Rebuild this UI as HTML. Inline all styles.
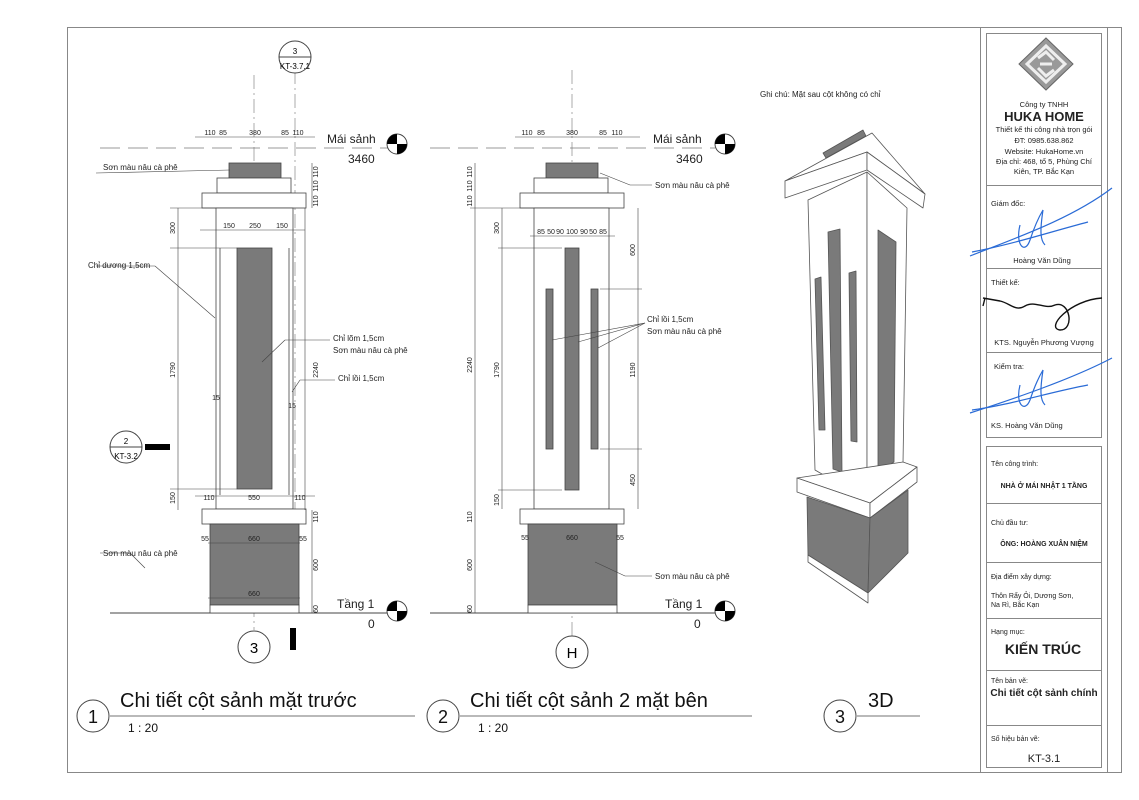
<!DOCTYPE html>
<html><head><meta charset="utf-8"><style>
body{margin:0;background:#fff}
svg{display:block;font-family:"Liberation Sans","DejaVu Sans",sans-serif}
.t{font-size:8px;fill:#222}
.d{font-size:7px;fill:#222}
</style></head><body>
<svg width="1139" height="800" viewBox="0 0 1139 800" xmlns="http://www.w3.org/2000/svg">
<rect x="0" y="0" width="1139" height="800" fill="#fff"/>
<rect x="67.5" y="27.5" width="1054" height="745" fill="none" stroke="#888" stroke-width="1"/>
<line x1="980.5" y1="28" x2="980.5" y2="772" stroke="#888"/>
<line x1="1107.5" y1="28" x2="1107.5" y2="772" stroke="#888"/>
<rect x="986.5" y="33.5" width="115" height="404" fill="none" stroke="#888"/>
<rect x="986.5" y="446.5" width="115" height="321" fill="none" stroke="#888"/>
<g stroke="#888"><line x1="987" y1="185.5" x2="1101" y2="185.5"/><line x1="987" y1="268.5" x2="1101" y2="268.5"/><line x1="987" y1="352.5" x2="1101" y2="352.5"/>
<line x1="987" y1="503.5" x2="1101" y2="503.5"/><line x1="987" y1="562.5" x2="1101" y2="562.5"/><line x1="987" y1="618.5" x2="1101" y2="618.5"/><line x1="987" y1="670.5" x2="1101" y2="670.5"/><line x1="987" y1="725.5" x2="1101" y2="725.5"/></g>
<polygon points="1046,38 1073,64 1046,90 1019,64" fill="#999" stroke="#666"/>
<polygon points="1046,46 1065,64 1046,82 1027,64" fill="none" stroke="#eee" stroke-width="3"/>
<path d="M1038,58 L1046,52 L1054,60 M1054,70 L1046,76 L1038,68 M1040,64 L1052,64" stroke="#eee" stroke-width="3" fill="none"/>
<g text-anchor="middle" fill="#222">
<text x="1044" y="107" font-size="7.5">Công ty TNHH</text>
<text x="1044" y="121" font-size="13" font-weight="bold">HUKA HOME</text>
<text x="1044" y="132" font-size="7.5">Thiết kế thi công nhà trọn gói</text>
<text x="1044" y="143" font-size="7.5">ĐT: 0985.638.862</text>
<text x="1044" y="154" font-size="7.5">Website: HukaHome.vn</text>
<text x="1044" y="164" font-size="7.5">Địa chỉ: 468, tổ 5, Phùng Chí</text>
<text x="1044" y="174" font-size="7.5">Kiên, TP. Bắc Kạn</text>
<text x="1042" y="263" font-size="7.5">Hoàng Văn Dũng</text>
<text x="1044" y="345" font-size="7.5">KTS. Nguyễn Phương Vượng</text>
<text x="1044" y="488" font-size="7" font-weight="bold">NHÀ Ở MÁI NHẬT 1 TẦNG</text>
<text x="1044" y="546" font-size="7" font-weight="bold">ÔNG: HOÀNG XUÂN NIỆM</text>
<text x="1043" y="654" font-size="14" font-weight="bold">KIẾN TRÚC</text>
<text x="1044" y="696" font-size="10" font-weight="bold">Chi tiết cột sảnh chính</text>
<text x="1044" y="762" font-size="11">KT-3.1</text>
</g>
<g font-size="7.5" fill="#222">
<text x="991" y="206">Giám đốc:</text><text x="991" y="285">Thiết kế:</text><text x="994" y="369">Kiểm tra:</text>
<text x="991" y="428">KS. Hoàng Văn Dũng</text>
<text x="991" y="466" font-size="7">Tên công trình:</text>
<text x="991" y="525" font-size="7">Chủ đầu tư:</text>
<text x="991" y="579" font-size="7">Địa điểm xây dựng:</text>
<text x="991" y="598" font-size="7">Thôn Rẩy Ỏi, Dương Sơn,</text>
<text x="991" y="607" font-size="7">Na Rì, Bắc Kạn</text>
<text x="991" y="634" font-size="7">Hạng mục:</text>
<text x="991" y="683" font-size="7">Tên bản vẽ:</text>
<text x="991" y="741" font-size="7">Số hiệu bản vẽ:</text>
</g>
<g fill="none" stroke="#2a6bd6" stroke-width="1.2">
<path d="M970,256 C1010,240 1070,220 1112,188"/><path d="M972,252 C1010,245 1050,232 1088,222"/>
<path d="M1020,225 C1015,245 1025,255 1030,240 C1035,225 1040,215 1043,210 C1040,230 1040,240 1045,245"/>
<path d="M970,413 C1010,400 1070,380 1112,358"/><path d="M972,410 C1010,405 1050,392 1088,385"/>
<path d="M1020,385 C1015,405 1025,413 1030,400 C1035,385 1040,375 1043,370 C1040,390 1040,400 1045,405"/>
</g>
<path d="M985,298 L983,306 M983,298 L1000,301 C1010,303 1015,312 1025,306 C1035,300 1045,310 1055,305 C1070,300 1075,330 1060,330 C1045,328 1070,300 1102,298" fill="none" stroke="#111" stroke-width="1.4"/>

<g stroke="#888" stroke-width="0.7" fill="none" stroke-dasharray="14,4,2,4">
<line x1="254" y1="75" x2="254" y2="630"/><line x1="295" y1="70" x2="295" y2="615"/>
<line x1="572" y1="70" x2="572" y2="636"/>
</g>
<g stroke="#777" stroke-width="0.8" stroke-dasharray="20,8">
<line x1="100" y1="148" x2="390" y2="148"/><line x1="430" y1="148" x2="715" y2="148"/>
</g>
<line x1="110" y1="613" x2="390" y2="613" stroke="#444" stroke-width="1"/>
<line x1="430" y1="613" x2="718" y2="613" stroke="#444" stroke-width="1"/>
<g stroke="#444" stroke-width="0.8">
<rect x="229" y="163" width="52" height="15" fill="#7a7a7a"/>
<rect x="217" y="178" width="74" height="15" fill="#fff"/>
<rect x="202" y="193" width="104" height="15" fill="#fff"/>
<rect x="216" y="208" width="77" height="301" fill="#fff"/>
<rect x="237" y="248" width="35" height="241" fill="#7a7a7a"/>
<line x1="220" y1="248" x2="220" y2="495"/><line x1="289" y1="248" x2="289" y2="495"/>
<rect x="202" y="509" width="104" height="15" fill="#fff"/>
<rect x="210" y="524" width="89" height="81" fill="#7a7a7a"/>
<rect x="210" y="605" width="89" height="8" fill="#fff"/>
</g>
<g stroke="#444" stroke-width="0.6">
<line x1="195" y1="137" x2="315" y2="137"/><line x1="200" y1="230" x2="305" y2="230"/>
<line x1="195" y1="496" x2="315" y2="496"/>
<line x1="178" y1="208" x2="178" y2="510"/><line x1="305" y1="208" x2="305" y2="510"/>
<line x1="312" y1="163" x2="312" y2="208"/><line x1="312" y1="510" x2="312" y2="613"/>
<line x1="170" y1="208" x2="216" y2="208"/><line x1="170" y1="248" x2="237" y2="248"/><line x1="170" y1="489" x2="237" y2="489"/>
<line x1="208" y1="543" x2="300" y2="543"/><line x1="208" y1="598" x2="300" y2="598"/>
<line x1="96" y1="173" x2="230" y2="170"/><line x1="96" y1="266" x2="155" y2="266"/><line x1="155" y1="266" x2="215" y2="318"/>
<line x1="330" y1="340" x2="285" y2="340"/><line x1="285" y1="340" x2="262" y2="362"/>
<line x1="335" y1="380" x2="300" y2="380"/><line x1="300" y1="380" x2="292" y2="392"/>
<line x1="100" y1="553" x2="130" y2="553"/><line x1="130" y1="553" x2="145" y2="568"/>
</g>
<g class="d" text-anchor="middle">
<text x="210" y="135">110</text><text x="223" y="135">85</text><text x="255" y="135">380</text><text x="285" y="135">85</text><text x="298" y="135">110</text>
<text x="229" y="228">150</text><text x="255" y="228">250</text><text x="282" y="228">150</text>
<text x="209" y="500">110</text><text x="254" y="500">550</text><text x="300" y="500">110</text>
<text x="205" y="541">55</text><text x="254" y="541">660</text><text x="303" y="541">55</text><text x="254" y="596">660</text>
<text x="216" y="400">15</text><text x="292" y="408">15</text>
<text transform="translate(175,228) rotate(-90)">300</text>
<text transform="translate(175,370) rotate(-90)">1790</text>
<text transform="translate(175,498) rotate(-90)">150</text>
<text transform="translate(318,370) rotate(-90)">2240</text>
<text transform="translate(318,172) rotate(-90)">110</text><text transform="translate(318,186) rotate(-90)">110</text><text transform="translate(318,201) rotate(-90)">110</text>
<text transform="translate(318,517) rotate(-90)">110</text><text transform="translate(318,565) rotate(-90)">600</text><text transform="translate(318,609) rotate(-90)">60</text>
</g>
<g class="t">
<text x="103" y="170">Sơn màu nâu cà phê</text><text x="88" y="268">Chỉ dương 1,5cm</text>
<text x="333" y="341">Chỉ lõm 1,5cm</text><text x="333" y="353">Sơn màu nâu cà phê</text>
<text x="338" y="381">Chỉ lồi 1,5cm</text><text x="103" y="556">Sơn màu nâu cà phê</text>
</g>
<g fill="#222">
<text x="327" y="143" font-size="12">Mái sảnh</text><text x="348" y="163" font-size="12">3460</text>
<text x="337" y="608" font-size="12">Tầng 1</text><text x="368" y="628" font-size="12">0</text>
<text x="653" y="143" font-size="12">Mái sảnh</text><text x="676" y="163" font-size="12">3460</text>
<text x="665" y="608" font-size="12">Tầng 1</text><text x="694" y="628" font-size="12">0</text>
</g>
<g>
<circle cx="397" cy="144" r="10" fill="#fff" stroke="#444"/><path d="M397,144 L397,134 A10,10 0 0 0 387,144 Z M397,144 L407,144 A10,10 0 0 1 397,154 Z" fill="#000"/>
<circle cx="397" cy="611" r="10" fill="#fff" stroke="#444"/><path d="M397,611 L397,601 A10,10 0 0 0 387,611 Z M397,611 L407,611 A10,10 0 0 1 397,621 Z" fill="#000"/>
<circle cx="725" cy="144" r="10" fill="#fff" stroke="#444"/><path d="M725,144 L725,134 A10,10 0 0 0 715,144 Z M725,144 L735,144 A10,10 0 0 1 725,154 Z" fill="#000"/>
<circle cx="725" cy="611" r="10" fill="#fff" stroke="#444"/><path d="M725,611 L725,601 A10,10 0 0 0 715,611 Z M725,611 L735,611 A10,10 0 0 1 725,621 Z" fill="#000"/>
</g>
<circle cx="295" cy="57" r="16" fill="#fff" stroke="#444"/><line x1="279" y1="57" x2="311" y2="57" stroke="#444"/>
<text x="295" y="54" font-size="8" text-anchor="middle">3</text><text x="295" y="69" font-size="8" text-anchor="middle">KT-3.7.1</text>
<circle cx="126" cy="447" r="16" fill="#fff" stroke="#444"/><line x1="110" y1="447" x2="142" y2="447" stroke="#444"/>
<text x="126" y="444" font-size="8" text-anchor="middle">2</text><text x="126" y="459" font-size="8" text-anchor="middle">KT-3.2</text>
<rect x="145" y="444" width="25" height="6" fill="#000"/><rect x="290" y="628" width="6" height="22" fill="#000"/>
<circle cx="254" cy="647" r="16" fill="#fff" stroke="#444"/><text x="254" y="653" font-size="15" text-anchor="middle">3</text>
<circle cx="572" cy="652" r="16" fill="#fff" stroke="#444"/><text x="572" y="658" font-size="15" text-anchor="middle">H</text>

<g stroke="#444" stroke-width="0.8">
<rect x="546" y="163" width="52" height="15" fill="#7a7a7a"/>
<rect x="534" y="178" width="74" height="15" fill="#fff"/>
<rect x="520" y="193" width="104" height="15" fill="#fff"/>
<rect x="534" y="208" width="75" height="301" fill="#fff"/>
<rect x="565" y="248" width="14" height="242" fill="#7a7a7a"/>
<rect x="546" y="289" width="7" height="160" fill="#7a7a7a"/>
<rect x="591" y="289" width="7" height="160" fill="#7a7a7a"/>
<rect x="520" y="509" width="104" height="15" fill="#fff"/>
<rect x="528" y="524" width="89" height="81" fill="#7a7a7a"/>
<rect x="528" y="605" width="89" height="8" fill="#fff"/>
</g>
<g stroke="#444" stroke-width="0.6">
<line x1="515" y1="137" x2="640" y2="137"/><line x1="530" y1="236" x2="615" y2="236"/>
<line x1="475" y1="163" x2="475" y2="613"/><line x1="502" y1="208" x2="502" y2="509"/><line x1="638" y1="208" x2="638" y2="509"/>
<line x1="470" y1="208" x2="534" y2="208"/><line x1="498" y1="248" x2="562" y2="248"/><line x1="498" y1="490" x2="562" y2="490"/>
<line x1="600" y1="289" x2="642" y2="289"/><line x1="600" y1="449" x2="642" y2="449"/>
<line x1="600" y1="173" x2="630" y2="185"/><line x1="630" y1="185" x2="652" y2="185"/>
<line x1="645" y1="323" x2="552" y2="340"/><line x1="645" y1="323" x2="578" y2="342"/><line x1="645" y1="323" x2="598" y2="348"/>
<line x1="652" y1="576" x2="625" y2="576"/><line x1="625" y1="576" x2="595" y2="562"/>
</g>
<g class="d" text-anchor="middle">
<text x="527" y="135">110</text><text x="541" y="135">85</text><text x="572" y="135">380</text><text x="603" y="135">85</text><text x="617" y="135">110</text>
<text x="541" y="234">85</text><text x="551" y="234">50</text><text x="560" y="234">90</text><text x="572" y="234">100</text><text x="584" y="234">90</text><text x="593" y="234">50</text><text x="603" y="234">85</text>
<text x="525" y="540">55</text><text x="572" y="540">660</text><text x="620" y="540">55</text>
<text transform="translate(472,365) rotate(-90)">2240</text>
<text transform="translate(499,228) rotate(-90)">300</text><text transform="translate(499,370) rotate(-90)">1790</text><text transform="translate(499,500) rotate(-90)">150</text>
<text transform="translate(635,250) rotate(-90)">600</text><text transform="translate(635,370) rotate(-90)">1190</text><text transform="translate(635,480) rotate(-90)">450</text>
<text transform="translate(472,172) rotate(-90)">110</text><text transform="translate(472,186) rotate(-90)">110</text><text transform="translate(472,201) rotate(-90)">110</text>
<text transform="translate(472,517) rotate(-90)">110</text><text transform="translate(472,565) rotate(-90)">600</text><text transform="translate(472,609) rotate(-90)">60</text>
</g>
<g class="t">
<text x="655" y="188">Sơn màu nâu cà phê</text>
<text x="647" y="322">Chỉ lồi 1,5cm</text><text x="647" y="334">Sơn màu nâu cà phê</text>
<text x="655" y="579">Sơn màu nâu cà phê</text>
<text x="760" y="97">Ghi chú: Mặt sau cột không có chỉ</text>
</g>

<g stroke="#555" stroke-width="0.8" stroke-linejoin="round">
<polygon points="823,153 863,130 866,136 826,158" fill="#7a7a7a"/>
<polygon points="785,181 872,133 925,194 867,152" fill="#fff"/>
<polygon points="785,181 867,152 867,170 785,198" fill="#fff"/>
<polygon points="867,152 925,194 923,208 867,170" fill="#fff"/>
<polygon points="808,200 867,172 867,500 815,470" fill="#fff"/>
<polygon points="867,172 907,208 903,463 867,500" fill="#fff"/>
<polygon points="828,232 840,229 842,472 833,469" fill="#7a7a7a"/>
<polygon points="815,279 821,277 825,430 819,430" fill="#7a7a7a"/>
<polygon points="849,273 856,271 857,442 851,441" fill="#7a7a7a"/>
<polygon points="878,230 896,242 894,462 878,472" fill="#7a7a7a"/>
<polygon points="797,478 903,462 917,467 870,503" fill="#fff"/>
<polygon points="797,478 870,503 870,518 797,492" fill="#fff"/>
<polygon points="870,503 917,467 917,482 870,518" fill="#fff"/>
<polygon points="807,497 870,518 868,593 808,555" fill="#7a7a7a"/>
<polygon points="870,518 908,490 908,553 868,593" fill="#7a7a7a"/>
<polygon points="808,555 868,593 868,603 808,562" fill="#fff"/>
</g>

<g fill="#111">
<circle cx="93" cy="716" r="16" fill="#fff" stroke="#444"/><text x="93" y="723" font-size="18" text-anchor="middle">1</text>
<text x="120" y="707" font-size="20">Chi tiết cột sảnh mặt trước</text>
<text x="128" y="732" font-size="12">1 : 20</text>
<circle cx="443" cy="716" r="16" fill="#fff" stroke="#444"/><text x="443" y="723" font-size="18" text-anchor="middle">2</text>
<text x="470" y="707" font-size="20">Chi tiết cột sảnh 2 mặt bên</text>
<text x="478" y="732" font-size="12">1 : 20</text>
<circle cx="840" cy="716" r="16" fill="#fff" stroke="#444"/><text x="840" y="723" font-size="18" text-anchor="middle">3</text>
<text x="868" y="707" font-size="20">3D</text>
</g>
<g stroke="#444" stroke-width="0.8">
<line x1="110" y1="716" x2="415" y2="716"/><line x1="460" y1="716" x2="752" y2="716"/><line x1="857" y1="716" x2="920" y2="716"/>
</g>
</svg>
</body></html>
